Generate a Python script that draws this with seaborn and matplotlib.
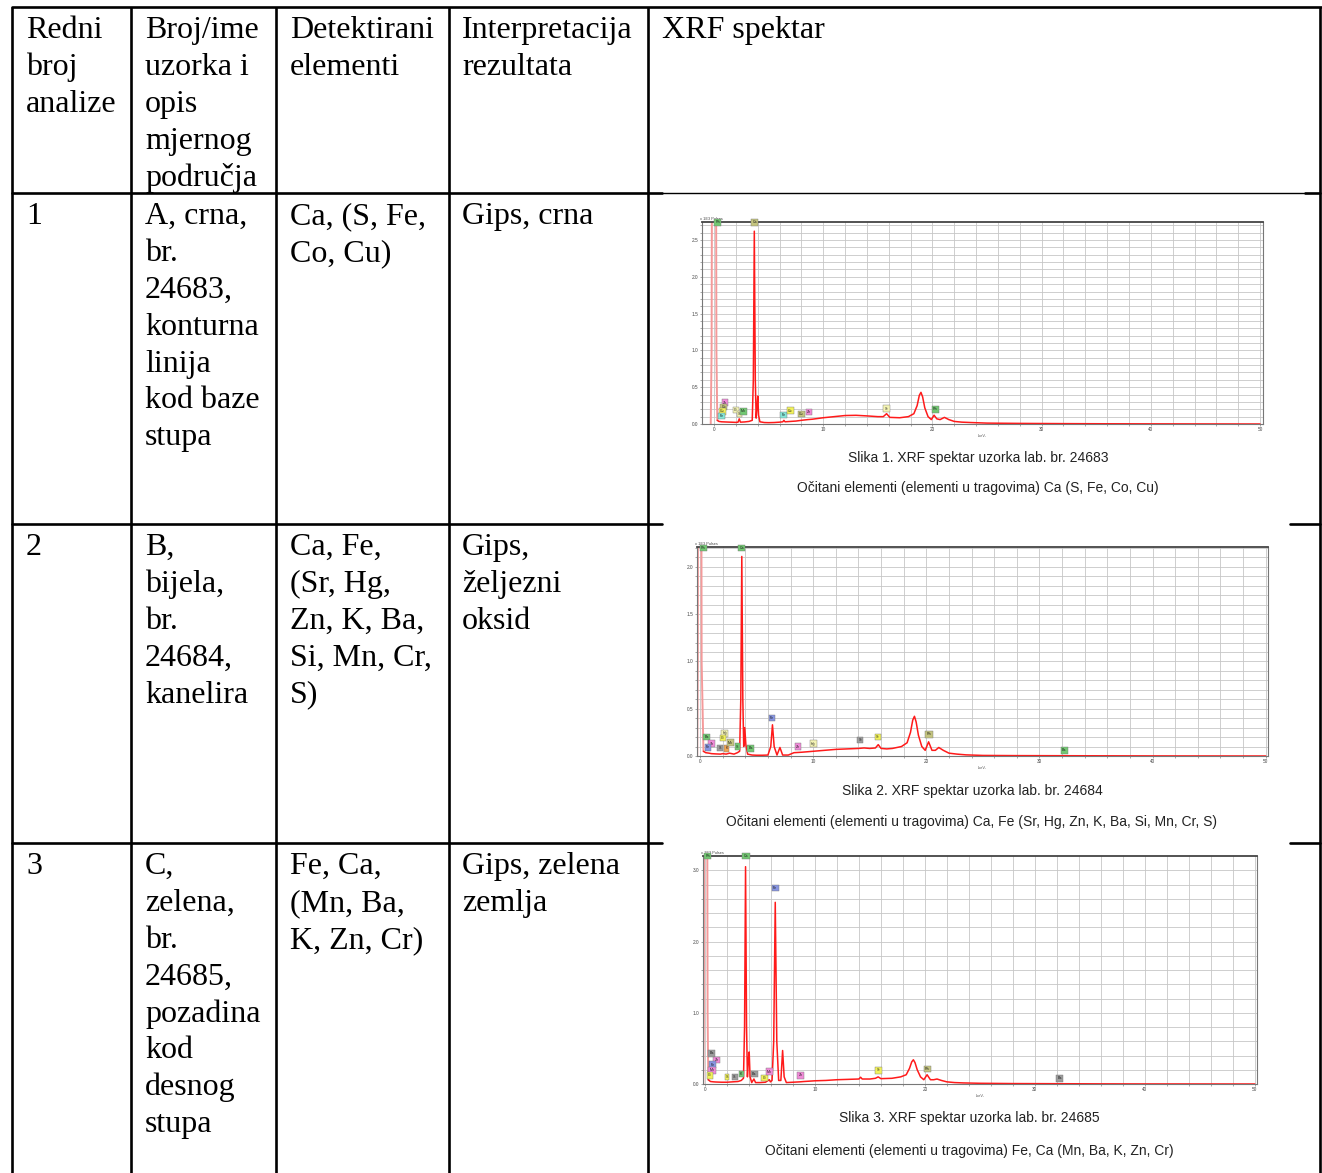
import numpy as np
import matplotlib
matplotlib.use("Agg")
import matplotlib.pyplot as plt
import seaborn as sns

sns.set_theme(style="white")
plt.rcParams['font.family'] = ['Liberation Serif', 'DejaVu Serif']

# ---------------- table text ----------------
header_cells = [
    ["Redni", "broj", "analize"],
    ["Broj/ime", "uzorka i", "opis", "mjernog", "područja"],
    ["Detektirani", "elementi"],
    ["Interpretacija", "rezultata"],
    ["XRF spektar"],
]
row_numbers = ["1", "2", "3"]
row_samples = [
    ["A, crna,", "br.", "24683,", "konturna", "linija", "kod baze", "stupa"],
    ["B,", "bijela,", "br.", "24684,", "kanelira"],
    ["C,", "zelena,", "br.", "24685,", "pozadina", "kod", "desnog", "stupa"],
]
row_elements = [
    ["Ca, (S, Fe,", "Co, Cu)"],
    ["Ca, Fe,", "(Sr, Hg,", "Zn, K, Ba,", "Si, Mn, Cr,", "S)"],
    ["Fe, Ca,", "(Mn, Ba,", "K, Zn, Cr)"],
]
row_interpretation = [
    ["Gips, crna"],
    ["Gips,", "željezni", "oksid"],
    ["Gips, zelena", "zemlja"],
]
caption_titles = [
    "Slika 1. XRF spektar uzorka lab. br. 24683",
    "Slika 2. XRF spektar uzorka lab. br. 24684",
    "Slika 3. XRF spektar uzorka lab. br. 24685",
]
caption_elements = [
    "Očitani elementi (elementi u tragovima) Ca (S, Fe, Co, Cu)",
    "Očitani elementi (elementi u tragovima) Ca, Fe (Sr, Hg, Zn, K, Ba, Si, Mn, Cr, S)",
    "Očitani elementi (elementi u tragovima) Fe, Ca (Mn, Ba, K, Zn, Cr)",
]

# ---------------- spectrum 1 (x 1E3 pulses vs keV) ----------------
s1_tube_energy = [-0.30, -0.22, -0.18, 0.18, 0.22, 0.30]
s1_tube_counts = [0.0, 1.0, 4.0, 4.0, 1.0, 0.05]
s1_energy = [0.30, 0.45, 0.7, 1.0, 1.5, 2.0, 2.2, 2.31, 2.42, 2.8, 3.2, 3.5, 3.6, 3.69, 3.78, 3.86,
             3.95, 4.01, 4.08, 4.2, 4.6, 5.0, 5.5, 6.0, 6.3, 6.4, 6.5, 7.0, 7.5, 8.0, 8.6, 9.0, 10.0,
             11.0, 12.0, 13.0, 14.0, 15.0, 15.5, 15.8, 16.1, 17.0, 17.8, 18.3, 18.6, 18.8, 18.95,
             19.1, 19.3, 19.6, 19.9, 20.15, 20.4, 20.7, 21.1, 21.5, 22.0, 22.7, 23.5, 25.0, 28.0,
             32.0, 36.0, 40.0, 45.0, 50.0]
s1_counts = [0.05, 0.035, 0.03, 0.028, 0.025, 0.022, 0.025, 0.07, 0.025, 0.028, 0.035, 0.05, 0.6,
             2.62, 0.6, 0.08, 0.25, 0.38, 0.12, 0.03, 0.02, 0.018, 0.02, 0.025, 0.03, 0.05, 0.03,
             0.035, 0.04, 0.05, 0.06, 0.065, 0.085, 0.1, 0.115, 0.118, 0.11, 0.1, 0.1, 0.14, 0.09,
             0.085, 0.1, 0.14, 0.25, 0.39, 0.43, 0.37, 0.22, 0.1, 0.06, 0.12, 0.07, 0.06, 0.09, 0.06,
             0.035, 0.025, 0.02, 0.012, 0.008, 0.005, 0.003, 0.002, 0.001, 0.0]
s1_tag_el = ["Rh", "Ca", "Zn", "Co", "Cu", "Fe", "Cr", "S", "Mn", "Fe", "Co", "Cu", "Zn", "Sr", "Rh"]
s1_tag_x = [0.35, 3.72, 1.0, 0.9, 0.77, 0.7, 2.03, 2.3, 2.7, 6.39, 6.98, 8.0, 8.7, 15.8, 20.25]
s1_tag_y = [2.74, 2.74, 0.29, 0.23, 0.17, 0.11, 0.19, 0.135, 0.17, 0.12, 0.18, 0.135, 0.16, 0.21, 0.2]
s1_tag_col = ["G", "O", "P", "O", "Y", "C", "LY", "LY", "G", "C", "Y", "O", "P", "LY", "G"]

# ---------------- spectrum 2 ----------------
s2_tube_energy = [-0.25, -0.2, -0.17, 0.1, 0.14, 0.3]
s2_tube_counts = [0.0, 1.0, 4.0, 4.0, 1.0, 0.05]
s2_energy = [0.3, 0.5, 0.8, 1.0, 1.4, 1.8, 2.0, 2.3, 2.6, 3.0, 3.3, 3.5, 3.6, 3.69, 3.78, 3.86, 3.95,
             4.05, 4.2, 4.6, 5.0, 5.5, 6.0, 6.25, 6.4, 6.55, 6.8, 7.06, 7.3, 7.8, 8.3, 9.0, 10.0, 11.0,
             12.0, 13.0, 14.0, 14.5, 15.0, 15.5, 15.75, 16.0, 16.5, 17.0, 17.8, 18.3, 18.6, 18.8,
             18.95, 19.1, 19.3, 19.6, 19.9, 20.2, 20.5, 20.8, 21.1, 21.5, 22.0, 22.7, 23.5, 25.0,
             28.0, 32.0, 36.0, 40.0, 45.0, 50.0]
s2_counts = [0.05, 0.035, 0.03, 0.025, 0.022, 0.02, 0.025, 0.02, 0.03, 0.02, 0.035, 0.05, 0.6, 2.11,
             0.6, 0.1, 0.3, 0.12, 0.02, 0.01, 0.008, 0.008, 0.01, 0.1, 0.33, 0.1, 0.01, 0.09, 0.01,
             0.01, 0.035, 0.04, 0.05, 0.06, 0.07, 0.075, 0.08, 0.085, 0.08, 0.085, 0.12, 0.08, 0.075,
             0.08, 0.1, 0.14, 0.25, 0.38, 0.42, 0.36, 0.22, 0.1, 0.06, 0.15, 0.06, 0.06, 0.09, 0.06,
             0.03, 0.02, 0.012, 0.006, 0.004, 0.003, 0.002, 0.001, 0.0005, 0.0]
s2_tag_el = ["Rh", "Ca", "Fe", "Ba", "Hg", "Cr", "Zn", "Fe", "Si", "K", "Mn", "S", "Ba", "Zn", "Hg",
             "Sr", "Sr", "Rh", "Ba"]
s2_tag_x = [0.3, 3.7, 6.36, 0.6, 2.2, 2.05, 1.03, 0.69, 1.79, 2.34, 2.7, 3.3, 4.47, 8.66, 10.0,
            14.16, 15.7, 20.24, 32.2]
s2_tag_y = [2.2, 2.2, 0.40, 0.2, 0.24, 0.19, 0.13, 0.09, 0.085, 0.08, 0.14, 0.1, 0.08, 0.1, 0.13,
            0.17, 0.2, 0.23, 0.06]
s2_tag_col = ["G", "G", "B", "G", "LY", "Y", "P", "B", "GR", "OR", "O", "G", "G", "P", "LY", "GR",
              "Y", "O", "G"]

# ---------------- spectrum 3 ----------------
s3_tube_energy = [-0.15, -0.1, -0.07, 0.2, 0.24, 0.3]
s3_tube_counts = [0.0, 1.0, 4.5, 4.5, 1.0, 0.06]
s3_energy = [0.3, 0.5, 0.8, 1.0, 1.5, 2.0, 2.5, 3.0, 3.3, 3.5, 3.6, 3.69, 3.78, 3.86, 3.95, 4.02,
             4.1, 4.25, 4.45, 4.6, 5.0, 5.5, 5.85, 5.95, 6.1, 6.25, 6.39, 6.53, 6.7, 6.9, 7.06, 7.2,
             7.4, 8.0, 8.6, 9.0, 10.0, 11.0, 12.0, 13.0, 14.0, 14.15, 14.3, 15.0, 15.5, 15.75, 16.0,
             17.0, 17.8, 18.3, 18.6, 18.8, 18.95, 19.1, 19.3, 19.6, 19.9, 20.2, 20.5, 20.8, 21.1,
             21.5, 22.0, 22.7, 23.5, 25.0, 28.0, 32.0, 36.0, 40.0, 45.0, 50.0]
s3_counts = [0.06, 0.035, 0.03, 0.028, 0.025, 0.025, 0.03, 0.035, 0.05, 0.08, 0.8, 3.05, 0.8, 0.1,
             0.35, 0.45, 0.1, 0.02, 0.07, 0.02, 0.02, 0.025, 0.06, 0.03, 0.05, 0.6, 2.55, 0.6, 0.05,
             0.05, 0.47, 0.1, 0.02, 0.025, 0.03, 0.035, 0.045, 0.05, 0.06, 0.065, 0.07, 0.095, 0.07,
             0.07, 0.08, 0.1, 0.075, 0.08, 0.1, 0.13, 0.22, 0.31, 0.34, 0.3, 0.2, 0.1, 0.06, 0.13,
             0.06, 0.06, 0.07, 0.05, 0.03, 0.02, 0.015, 0.01, 0.006, 0.004, 0.002, 0.001, 0.0005, 0.0]
s3_tag_el = ["Rh", "Ca", "Fe", "Ba", "Zn", "Fe", "Mn", "Cr", "S", "Si", "K", "Ba", "Cr", "Mn", "Zn",
             "Sr", "Rh", "Ba"]
s3_tag_x = [0.25, 3.73, 6.39, 0.6, 1.05, 0.7, 0.63, 0.45, 2.0, 2.7, 3.3, 4.47, 5.41, 5.86, 8.69,
            15.78, 20.24, 32.25]
s3_tag_y = [3.2, 3.2, 2.75, 0.43, 0.34, 0.27, 0.19, 0.12, 0.1, 0.1, 0.14, 0.14, 0.085, 0.175, 0.12,
            0.19, 0.21, 0.08]
s3_tag_col = ["G", "G", "B", "GR", "P", "B", "P", "Y", "Y", "GR", "G", "GR", "Y", "P", "P", "Y", "O",
              "GR"]

TAG_COLORS = {"G": "#72c872", "O": "#c4c47e", "P": "#f08ad8", "Y": "#f2f25a", "LY": "#f4f4b4",
              "C": "#84e6d8", "B": "#8795e2", "GR": "#9c9c9c", "OR": "#f0a452"}

# ---------------- figure ----------------
W, H = 1322, 1173
fig = plt.figure(figsize=(W / 100, H / 100), dpi=100)
fig.patch.set_facecolor("white")
tab = fig.add_axes([0, 0, 1, 1])
tab.set_xlim(0, W)
tab.set_ylim(H, 0)
tab.axis("off")

LW = 1.9
K = "black"
# outer / column lines
for xv in [12, 131, 276, 449, 648, 1320]:
    tab.plot([xv, xv], [7, H + 5], color=K, lw=LW, solid_capstyle="butt")
tab.plot([12, 1322], [7, 7], color=K, lw=LW)
tab.plot([12, 662], [193, 193], color=K, lw=LW)
tab.plot([662, 1305], [193, 193], color=K, lw=1.0)
tab.plot([1305, 1320], [193, 193], color=K, lw=LW)
for yv in [524, 843]:
    tab.plot([12, 662], [yv, yv], color=K, lw=LW)
    tab.plot([1290, 1320], [yv, yv], color=K, lw=LW)

col_x = [26, 145, 290, 462, 662]
LS = 36.9
FS = 23


def put_lines(x, y0, lines):
    for i, s in enumerate(lines):
        tab.text(x, y0 + i * LS, s, fontsize=FS, ha="left", va="baseline",
                 family=["Liberation Serif"], color="black")


for cx, cell in zip(col_x, header_cells):
    put_lines(cx, 38, cell)

row_base = [224, 555, 874]
for r in range(3):
    put_lines(col_x[0], row_base[r], [row_numbers[r]])
    put_lines(col_x[1], row_base[r], row_samples[r])
    put_lines(col_x[2], row_base[r], row_elements[r])
    put_lines(col_x[3], row_base[r], row_interpretation[r])


def rect(l, t, r, b):
    return [l / W, 1 - b / H, (r - l) / W, (b - t) / H]


def spectrum(box, xlim, ytop, ymaj, ymin, tube_e, tube_c, en, ct, tel, tx, ty, tc):
    ax = fig.add_axes(rect(*box))
    ax.set_facecolor("white")
    sns.lineplot(x=tube_e, y=tube_c, ax=ax, color="#f49a9a", lw=1.4, estimator=None, sort=False)
    sns.lineplot(x=en, y=ct, ax=ax, color="#ff1a1a", lw=1.1, estimator=None, sort=False)
    ax.set_xlim(*xlim)
    ax.set_ylim(0, ytop)
    ax.set_xticks(np.arange(0, 51, 10))
    ax.set_xticks(np.arange(0, 51, 2), minor=True)
    ax.set_yticks(np.arange(0, ytop + 1e-9, ymaj))
    ax.set_yticks(np.arange(0, ytop, ymin), minor=True)
    ax.yaxis.set_major_formatter(matplotlib.ticker.FormatStrFormatter("%.1f"))
    ax.grid(True, which="both", color="#c6c6c6", lw=0.6)
    ax.set_axisbelow(True)
    ax.tick_params(which="both", direction="out", length=1.5, width=0.4, color="#666",
                   labelsize=3.4, labelcolor="#444", pad=1, labelfontfamily="Liberation Sans")
    ax.tick_params(which="both", bottom=True, left=True)
    for sp in ax.spines.values():
        sp.set_color("#777")
        sp.set_linewidth(0.8)
    ax.spines["top"].set_color("#444")
    ax.spines["top"].set_linewidth(1.3)
    ax.set_xlabel("-keV-", fontsize=2.8, labelpad=1, family="Liberation Sans", color="#555")
    ax.set_ylabel("")
    ax.text(-0.003, 1.006, "x 1E3 Pulses", transform=ax.transAxes, fontsize=2.8, ha="left",
            va="bottom", family="Liberation Sans", color="#444")
    for el, x, y, c in zip(tel, tx, ty, tc):
        ax.text(x, y, el, fontsize=2.6, ha="center", va="center", family="Liberation Sans",
                color="#222", clip_on=False, zorder=6,
                bbox=dict(boxstyle="square,pad=0.35", fc=TAG_COLORS[c], ec="#777", lw=0.3))
    return ax


spectrum((702, 222, 1263, 424), (-1.1, 50.27), 2.745, 0.5, 0.1,
         s1_tube_energy, s1_tube_counts, s1_energy, s1_counts,
         s1_tag_el, s1_tag_x, s1_tag_y, s1_tag_col)
spectrum((697, 547, 1268, 756), (-0.27, 50.2), 2.21, 0.5, 0.1,
         s2_tube_energy, s2_tube_counts, s2_energy, s2_counts,
         s2_tag_el, s2_tag_x, s2_tag_y, s2_tag_col)
spectrum((703, 856, 1257, 1084), (-0.18, 50.2), 3.2, 1.0, 0.2,
         s3_tube_energy, s3_tube_counts, s3_energy, s3_counts,
         s3_tag_el, s3_tag_x, s3_tag_y, s3_tag_col)

cap_x = [978, 972, 969]
cap_y = [(462, 492), (795, 826), (1122, 1155)]
for i in range(3):
    tab.text(cap_x[i], cap_y[i][0], caption_titles[i], fontsize=10, ha="center", va="baseline",
             family=["Liberation Sans"], color="#222")
    tab.text(cap_x[i], cap_y[i][1], caption_elements[i], fontsize=10, ha="center", va="baseline",
             family=["Liberation Sans"], color="#222")

fig.savefig("out.png", dpi=100, facecolor="white")
